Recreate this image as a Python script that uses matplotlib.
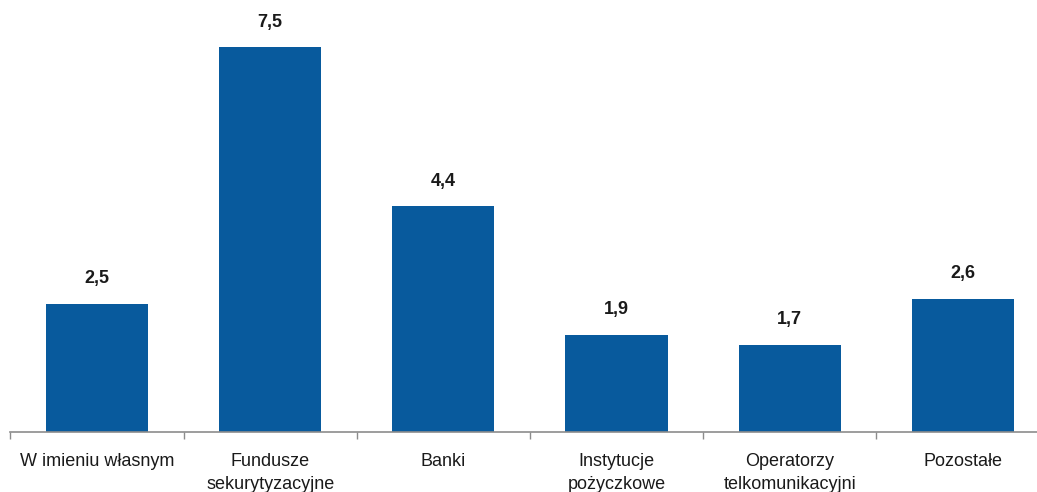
import matplotlib
matplotlib.use('Agg')
import matplotlib.pyplot as plt
import numpy as np

categories = ['W imieniu własnym', 'Fundusze\nsekurytyzacyjne', 'Banki',
              'Instytucje\npożyczkowe', 'Operatorzy\ntelkomunikacyjni', 'Pozostałe']
values = [2.5, 7.5, 4.4, 1.9, 1.7, 2.6]
value_labels = ['2,5', '7,5', '4,4', '1,9', '1,7', '2,6']

plt.rcParams['font.family'] = ['Liberation Sans Narrow', 'Liberation Sans', 'DejaVu Sans']

fig = plt.figure(figsize=(10.37, 4.92), dpi=100)
ax = fig.add_axes([10.4 / 1037, 60 / 492, 1039 / 1037, 432 / 492])

x = np.arange(len(categories))
bars = ax.bar(x, values, width=0.59, color='#085a9d')

for xi, v, lab in zip(x, values, value_labels):
    ax.annotate(lab, (xi, v), xytext=(0, 12), textcoords='offset points',
                ha='center', va='bottom', fontsize=13, fontweight='bold', color='#1a1a1a')

ax.set_xlim(-0.5, 5.5)
ax.set_ylim(0, 8.42)

for s in ['top', 'right', 'left']:
    ax.spines[s].set_visible(False)
ax.spines['bottom'].set_color('#8c8c8c')
ax.spines['bottom'].set_linewidth(1.2)

ax.set_yticks([])
ax.set_xticks(np.arange(-0.5, 6, 1))
ax.set_xticklabels([])
ax.tick_params(axis='x', which='major', length=5, color='#8c8c8c', width=1)
ax.set_xticks(x, minor=True)
ax.set_xticklabels(categories, minor=True, fontsize=13, color='#1a1a1a', linespacing=1.45)
ax.tick_params(axis='x', which='minor', length=0, pad=15)

fig.savefig('out.png', dpi=100)
